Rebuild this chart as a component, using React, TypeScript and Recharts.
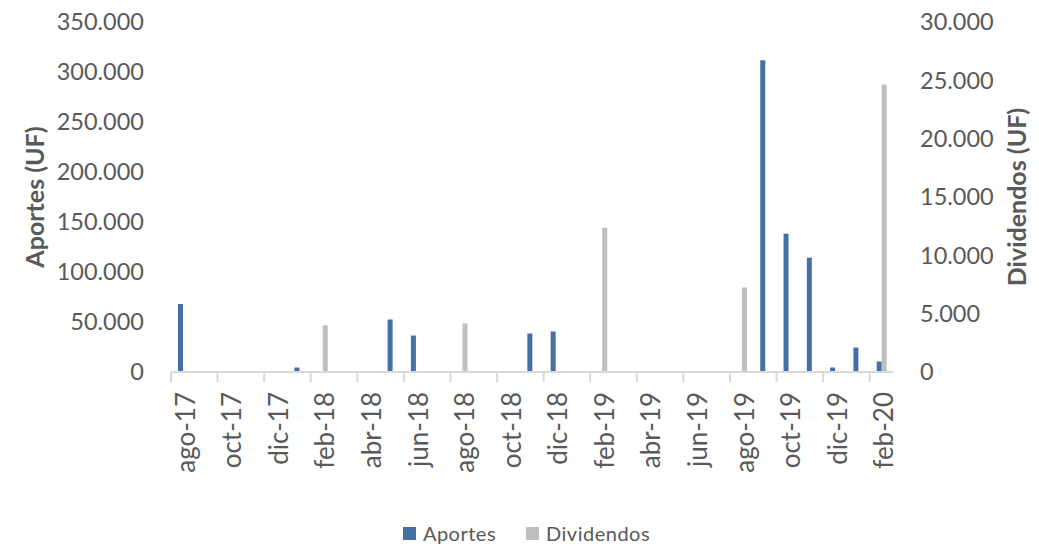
import { Bar, BarChart, Legend, XAxis, YAxis } from 'recharts';

const meses = [
  'ago-17', 'sep-17', 'oct-17', 'nov-17', 'dic-17', 'ene-18', 'feb-18', 'mar-18',
  'abr-18', 'may-18', 'jun-18', 'jul-18', 'ago-18', 'sep-18', 'oct-18', 'nov-18',
  'dic-18', 'ene-19', 'feb-19', 'mar-19', 'abr-19', 'may-19', 'jun-19', 'jul-19',
  'ago-19', 'sep-19', 'oct-19', 'nov-19', 'dic-19', 'ene-20', 'feb-20',
];

// UF por mes (null = sin movimiento)
const aportes = [
  68000, null, null, null, null, 4500, null, null,
  null, 52500, 36500, null, null, null, null, 38500,
  40500, null, null, null, null, null, null, null,
  null, 311700, 138300, 114300, 4500, 24500, 10500,
];

const dividendos = [
  null, null, null, null, null, null, 4000, null,
  null, null, null, null, 4160, null, null, null,
  null, null, 12370, null, null, null, null, null,
  7250, null, null, null, null, null, 24650,
];

const ticksAportes = [0, 50000, 100000, 150000, 200000, 250000, 300000, 350000];
const ticksDividendos = [0, 5000, 10000, 15000, 20000, 25000, 30000];

const data = meses.map((mes, i) => ({
  mes,
  aportes: aportes[i],
  dividendos: dividendos[i],
}));

const W = 1039;
const H = 548;
const LEFT_W = 171;
const RIGHT_W = 146;
const BAND = (W - LEFT_W - RIGHT_W) / meses.length;

const TEXT = '#595959';
const GRID = '#D9D9D9';
const BLUE = '#4470A5';
const GRAY = '#BFBFBF';
const FONT = "Lato, 'Open Sans', sans-serif";

const miles = (v: number) => String(v).replace(/\B(?=(\d{3})+(?!\d))/g, '.');

function MesTick(props: any) {
  const { x, y, payload } = props;
  const tx = x - BAND / 2;
  return (
    <g>
      <line x1={tx} x2={tx} y1={y} y2={y + 10} stroke={GRID} strokeWidth={2} />
      <text
        transform={`translate(${x + 2},${y + 20}) rotate(-90)`}
        textAnchor="end"
        dominantBaseline="central"
        fill={TEXT}
        fontSize={26}
      >
        {payload.value}
      </text>
    </g>
  );
}

function Leyenda() {
  const items = [
    { name: 'Aportes', color: BLUE },
    { name: 'Dividendos', color: GRAY },
  ];
  return (
    <div style={{ display: 'flex', justifyContent: 'center', gap: 30, paddingLeft: 14 }}>
      {items.map((it) => (
        <div key={it.name} style={{ display: 'flex', alignItems: 'center' }}>
          <span style={{ width: 13, height: 13, background: it.color, marginRight: 7 }} />
          <span style={{ fontSize: 20, color: TEXT, letterSpacing: 0.5 }}>{it.name}</span>
        </div>
      ))}
    </div>
  );
}

export default function App() {
  return (
    <div style={{ position: 'absolute', left: 0, top: 0, fontFamily: FONT }}>
      <BarChart
        width={W}
        height={H}
        data={data}
        margin={{ top: 22, right: 0, left: 0, bottom: 26 }}
        barSize={5}
        barGap={0}
      >
        <XAxis
          dataKey="mes"
          interval={1}
          height={150}
          tickSize={0}
          tickMargin={0}
          tickLine={false}
          axisLine={{ stroke: GRID, strokeWidth: 2 }}
          tick={<MesTick />}
        />
        <YAxis
          yAxisId="left"
          width={LEFT_W}
          domain={[0, 350000]}
          ticks={ticksAportes}
          tickFormatter={miles}
          axisLine={false}
          tickLine={false}
          tickSize={0}
          tickMargin={27}
          tick={{ fill: TEXT, fontSize: 23.5 }}
          label={{
            content: (p: any) => (
              <text
                transform={`translate(${p.viewBox.x + 34},${p.viewBox.y + p.viewBox.height / 2}) rotate(-90)`}
                textAnchor="middle"
                dominantBaseline="central"
                fill={TEXT}
                fontSize={25}
                fontWeight="bold"
              >
                Aportes (UF)
              </text>
            ),
          }}
        />
        <YAxis
          yAxisId="right"
          orientation="right"
          width={RIGHT_W}
          domain={[0, 30000]}
          ticks={ticksDividendos}
          tickFormatter={miles}
          axisLine={false}
          tickLine={false}
          tickSize={0}
          tickMargin={27}
          tick={{ fill: TEXT, fontSize: 23.5 }}
          label={{
            content: (p: any) => (
              <text
                transform={`translate(${p.viewBox.x + 123},${p.viewBox.y + p.viewBox.height / 2}) rotate(-90)`}
                textAnchor="middle"
                dominantBaseline="central"
                fill={TEXT}
                fontSize={25}
                fontWeight="bold"
              >
                Dividendos (UF)
              </text>
            ),
          }}
        />
        <Legend
          verticalAlign="middle"
          align="center"
          wrapperStyle={{ top: 521, left: 0, width: W }}
          content={<Leyenda />}
        />
        <Bar yAxisId="left" dataKey="aportes" name="Aportes" fill={BLUE} isAnimationActive={false} />
        <Bar yAxisId="right" dataKey="dividendos" name="Dividendos" fill={GRAY} isAnimationActive={false} />
      </BarChart>
    </div>
  );
}
